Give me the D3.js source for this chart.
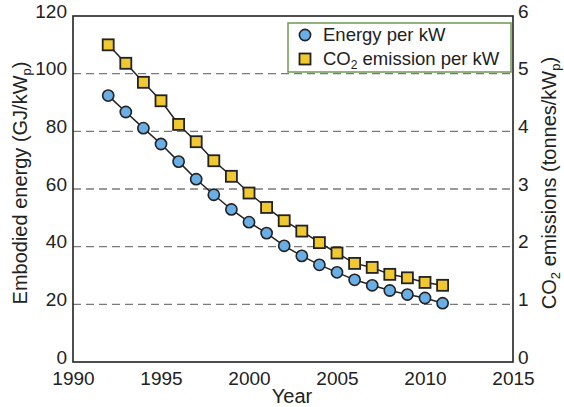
<!DOCTYPE html>
<html>
<head>
<meta charset="utf-8">
<script src="https://cdn.jsdelivr.net/npm/d3@7"></script>
<style>
  html, body { margin: 0; padding: 0; background: #fff; }
  svg { display: block; font-family: "Liberation Sans", Arial, sans-serif; }
</style>
</head>
<body>
<svg id="chart" width="564" height="407"></svg>
<script>
// Embodied energy and CO2 emissions per kW of installed PV, by year
const years = [1992, 1993, 1994, 1995, 1996, 1997, 1998, 1999, 2000, 2001,
               2002, 2003, 2004, 2005, 2006, 2007, 2008, 2009, 2010, 2011];
const energyPerKW = [92.4, 86.7, 81.1, 75.6, 69.5, 63.4, 58.0, 52.9, 48.5, 44.7,
                     40.3, 36.8, 33.7, 31.1, 28.5, 26.6, 24.8, 23.4, 22.2, 20.4];
const co2PerKW = [5.50, 5.18, 4.85, 4.53, 4.12, 3.82, 3.49, 3.22, 2.93, 2.68,
                  2.45, 2.27, 2.07, 1.89, 1.71, 1.64, 1.52, 1.46, 1.38, 1.33];
const xTicks = [1990, 1995, 2000, 2005, 2010, 2015];
const yLeftTicks = [0, 20, 40, 60, 80, 100, 120];
const yRightTicks = [0, 1, 2, 3, 4, 5, 6];
const gridValues = [20, 40, 60, 80, 100];

const svg = d3.select("#chart");
const plot = { left: 73, right: 513, top: 16, bottom: 362 };

const x = d3.scaleLinear().domain([1990, 2015]).range([plot.left, plot.right]);
const yL = d3.scaleLinear().domain([0, 120]).range([plot.bottom, plot.top]);
const yR = d3.scaleLinear().domain([0, 6]).range([plot.bottom, plot.top]);

const ink = "#222";
const font = "'Liberation Sans', Arial, sans-serif";

// dashed horizontal grid
svg.append("g").selectAll("line").data(gridValues).join("line")
  .attr("x1", plot.left).attr("x2", plot.right)
  .attr("y1", d => yL(d)).attr("y2", d => yL(d))
  .attr("stroke", "#7a7a7a").attr("stroke-width", 1.4)
  .attr("stroke-dasharray", "8,5");

// axes (labels only, no tick marks)
const axisStyle = (g, shiftY) => {
  g.select(".domain").remove();
  g.selectAll(".tick line").remove();
  g.selectAll(".tick text").attr("fill", ink).style("font-size", "19px")
    .style("font-family", font)
    .attr("transform", `translate(0,${shiftY})`);
};
svg.append("g").attr("transform", `translate(0,${plot.bottom})`)
  .call(d3.axisBottom(x).tickValues(xTicks).tickFormat(d3.format("d")).tickSizeInner(0).tickPadding(10))
  .call(axisStyle, 0);
svg.append("g").attr("transform", `translate(${plot.left},0)`)
  .call(d3.axisLeft(yL).tickValues(yLeftTicks).tickFormat(d3.format("d")).tickSizeInner(0).tickPadding(6))
  .call(axisStyle, -5);
svg.append("g").attr("transform", `translate(${plot.right},0)`)
  .call(d3.axisRight(yR).tickValues(yRightTicks).tickFormat(d3.format("d")).tickSizeInner(0).tickPadding(5))
  .call(axisStyle, -5);

// frame
svg.append("rect")
  .attr("x", plot.left).attr("y", plot.top)
  .attr("width", plot.right - plot.left).attr("height", plot.bottom - plot.top)
  .attr("fill", "none").attr("stroke", ink).attr("stroke-width", 1.6);

const energyData = years.map((yr, i) => ({ yr, v: energyPerKW[i] }));
const co2Data = years.map((yr, i) => ({ yr, v: co2PerKW[i] }));

// connecting lines
svg.append("path").datum(co2Data)
  .attr("fill", "none").attr("stroke", ink).attr("stroke-width", 1.5)
  .attr("d", d3.line().x(d => x(d.yr)).y(d => yR(d.v)));
svg.append("path").datum(energyData)
  .attr("fill", "none").attr("stroke", ink).attr("stroke-width", 1.5)
  .attr("d", d3.line().x(d => x(d.yr)).y(d => yL(d.v)));

const sq = 11;
const blue = "#6aaee6", gold = "#f0c830";

// CO2 squares
svg.append("g").selectAll("rect").data(co2Data).join("rect")
  .attr("x", d => x(d.yr) - sq / 2).attr("y", d => yR(d.v) - sq / 2)
  .attr("width", sq).attr("height", sq)
  .attr("fill", gold).attr("stroke", ink).attr("stroke-width", 1.8);

// energy circles
svg.append("g").selectAll("circle").data(energyData).join("circle")
  .attr("cx", d => x(d.yr)).attr("cy", d => yL(d.v)).attr("r", 5.6)
  .attr("fill", blue).attr("stroke", ink).attr("stroke-width", 1.6);

// legend
const lg = svg.append("g");
lg.append("rect").attr("x", 288).attr("y", 23).attr("width", 223).attr("height", 49)
  .attr("fill", "#fff").attr("stroke", "#6e9a50").attr("stroke-width", 1.5);
lg.append("circle").attr("cx", 305).attr("cy", 35).attr("r", 5.6)
  .attr("fill", blue).attr("stroke", ink).attr("stroke-width", 1.6);
lg.append("rect").attr("x", 305 - sq / 2).attr("y", 59 - sq / 2).attr("width", sq).attr("height", sq)
  .attr("fill", gold).attr("stroke", ink).attr("stroke-width", 1.8);
lg.append("text").attr("x", 323).attr("y", 41).attr("fill", ink).style("font-size", "18.5px")
  .text("Energy per kW");
const t2 = lg.append("text").attr("x", 323).attr("y", 65).attr("fill", ink).style("font-size", "18.5px");
t2.append("tspan").text("CO");
t2.append("tspan").attr("dy", 4).style("font-size", "12px").text("2");
t2.append("tspan").attr("dy", -4).text(" emission per kW");

// axis titles
svg.append("text").attr("x", 292).attr("y", 403).attr("text-anchor", "middle")
  .attr("fill", ink).style("font-size", "20px").text("Year");

const lt = svg.append("text")
  .attr("transform", `translate(27,183) rotate(-90)`)
  .attr("text-anchor", "middle").attr("fill", ink).style("font-size", "20px");
lt.append("tspan").text("Embodied energy (GJ/kW");
lt.append("tspan").attr("dy", 4).style("font-size", "13px").text("p");
lt.append("tspan").attr("dy", -4).text(")");

const rt = svg.append("text")
  .attr("transform", `translate(556,183) rotate(-90)`)
  .attr("text-anchor", "middle").attr("fill", ink).style("font-size", "20px");
rt.append("tspan").text("CO");
rt.append("tspan").attr("dy", 4).style("font-size", "13px").text("2");
rt.append("tspan").attr("dy", -4).text(" emissions (tonnes/kW");
rt.append("tspan").attr("dy", 4).style("font-size", "13px").text("p");
rt.append("tspan").attr("dy", -4).text(")");
</script>
</body>
</html>
